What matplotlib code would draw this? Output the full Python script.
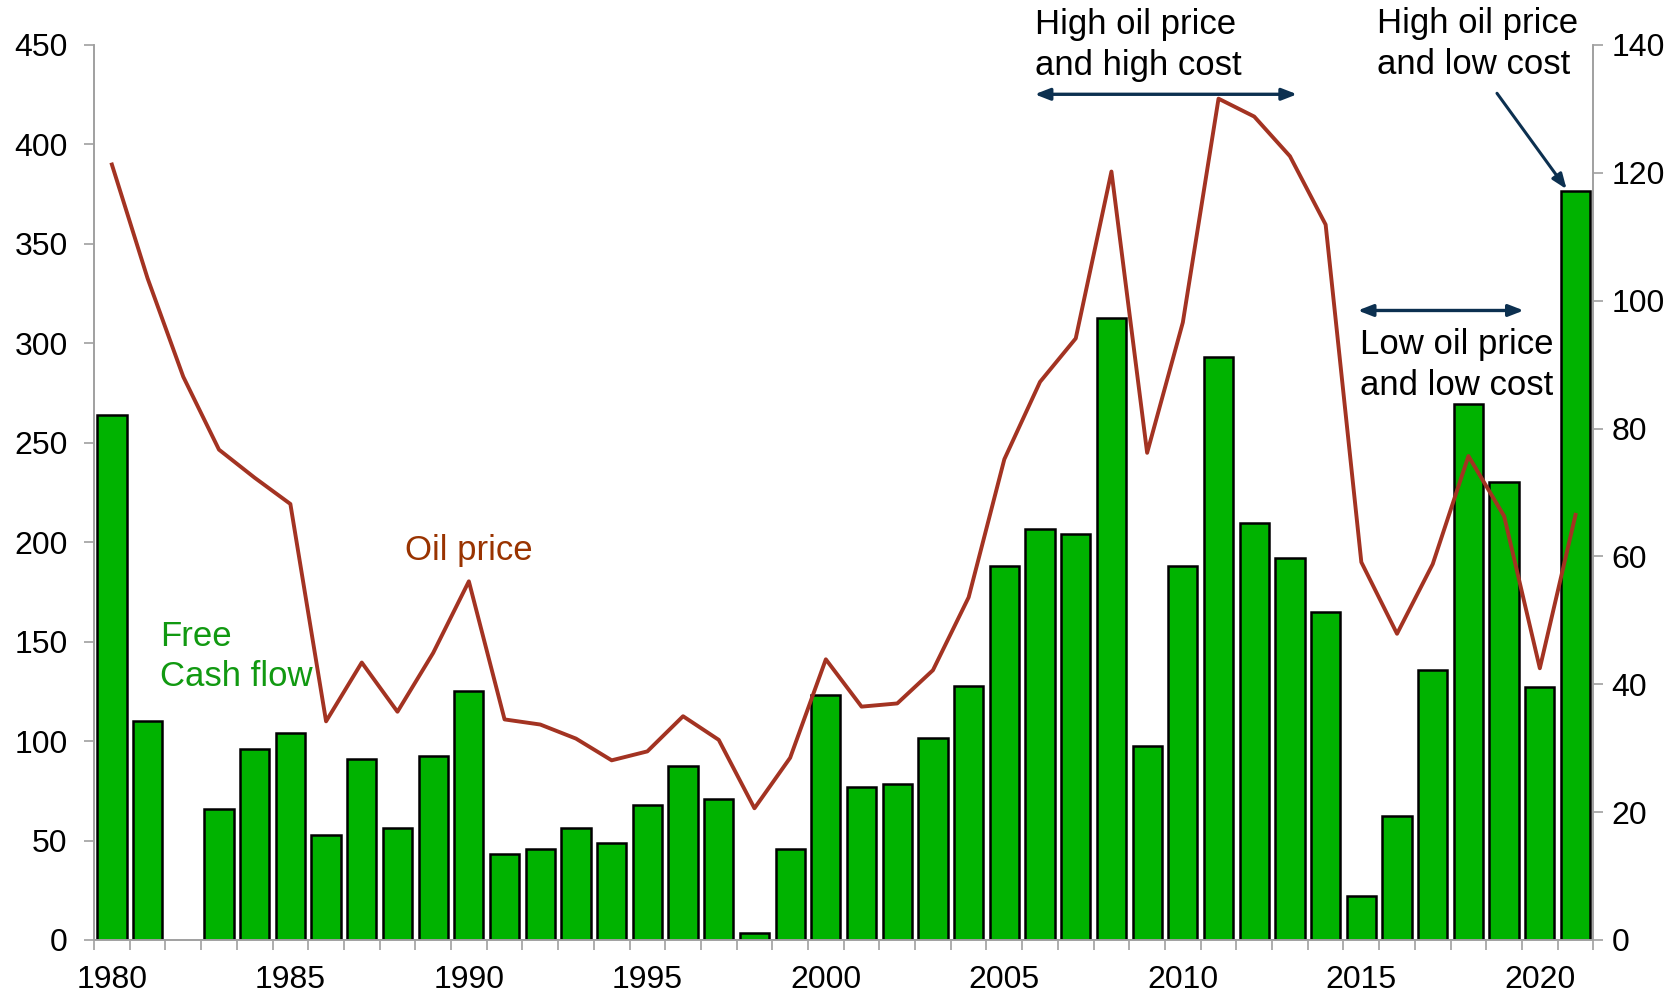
import matplotlib

matplotlib.use("Agg")
import matplotlib.pyplot as plt
from matplotlib.ticker import FixedLocator, NullFormatter

plt.rcParams["font.family"] = ["Liberation Sans", "DejaVu Sans"]

years = list(range(1980, 2022))
free_cash_flow = [
    264, 110, float("nan"), 66, 96, 104, 53, 91, 56.5, 92.5,
    125, 43, 45.5, 56.5, 49, 68, 87.5, 71, 3.5, 45.5,
    123, 77, 78.5, 101.5, 127.5, 188, 206.5, 204, 312.5, 97.5,
    188, 293, 209.5, 192, 165, 22, 62.5, 135.5, 269.5, 230.5,
    127, 376.5,
]
oil_price = [
    121.3, 103.5, 88.1, 76.7, 72.3, 68.2, 34.2, 43.4, 35.7, 44.9,
    56.1, 34.5, 33.7, 31.5, 28.1, 29.5, 35.0, 31.3, 20.6, 28.5,
    43.9, 36.5, 37.0, 42.2, 53.6, 75.2, 87.3, 94.1, 120.2, 76.2,
    96.6, 131.6, 128.8, 122.6, 111.9, 59.1, 47.9, 58.8, 75.7, 66.3,
    42.5, 66.5,
]
year_labels = [1980, 1985, 1990, 1995, 2000, 2005, 2010, 2015, 2020]

_GREEN = "#00b300"
_LINE = "#a33322"
_NAVY = "#0c3050"
_AXIS = "#a0a0a0"
_FS = 23
_AFS = 25

fig = plt.figure(figsize=(16.79, 9.97), dpi=100)
ax = fig.add_axes([0.056, 0.0572, 0.893, 0.8977])
ax2 = ax.twinx()

ax.bar(years, free_cash_flow, width=0.82, color=_GREEN, edgecolor="black", linewidth=1.8, zorder=2)
ax2.plot(years, oil_price, color=_LINE, linewidth=2.8, zorder=3)

ax.set_xlim(1979.5, 2021.5)
ax.set_ylim(0, 450)
ax2.set_ylim(0, 140)
ax.set_yticks(range(0, 451, 50))
ax2.set_yticks(range(0, 141, 20))

# year labels sit on the bars, tick marks sit between them
ax.xaxis.set_major_locator(FixedLocator(year_labels))
ax.xaxis.set_minor_locator(FixedLocator([y - 0.5 for y in years] + [2021.5]))
ax.xaxis.set_minor_formatter(NullFormatter())
ax.tick_params(axis="x", which="major", length=0, labelsize=_FS, pad=18)
ax.tick_params(axis="x", which="minor", length=7, width=1.2, color=_AXIS)
ax.tick_params(axis="y", length=7, width=1.2, color=_AXIS, labelsize=_FS, pad=12)
ax2.tick_params(axis="y", length=7, width=1.2, color=_AXIS, labelsize=_FS, pad=6)

for a in (ax, ax2):
    a.spines["top"].set_visible(False)
    for s in ("left", "right", "bottom"):
        a.spines[s].set_color(_AXIS)
        a.spines[s].set_linewidth(1.2)
ax2.patch.set_visible(False)

# --- Annotations (placed on the left-axis scale) ------------------------
ax.text(1988.2, 196, "Oil price", fontsize=_AFS, color="#993300", va="center", ha="left")
ax.text(1981.35, 142.5, "Free\nCash flow", fontsize=_AFS, color="#119911", va="center", ha="left",
        linespacing=1.3)
ax.text(2005.85, 450, "High oil price\nand high cost", fontsize=_AFS, color="black", va="center",
        ha="left", linespacing=1.3, clip_on=False)
ax.text(2015.45, 450.5, "High oil price\nand low cost", fontsize=_AFS, color="black", va="center",
        ha="left", linespacing=1.3, clip_on=False)
ax.text(2014.97, 289, "Low oil price\nand low cost", fontsize=_AFS, color="black", va="center",
        ha="left", linespacing=1.3)

arrow2 = dict(arrowstyle="<|-|>,head_length=0.9,head_width=0.35", color=_NAVY, lw=2.4,
              shrinkA=0, shrinkB=0)
ax.annotate("", xy=(2013.2, 425.2), xytext=(2005.85, 425.2), arrowprops=arrow2)
ax.annotate("", xy=(2019.55, 316.5), xytext=(2014.9, 316.5), arrowprops=arrow2)
ax.annotate("", xy=(2020.75, 377.5), xytext=(2018.8, 425.7),
            arrowprops=dict(arrowstyle="-|>,head_length=0.9,head_width=0.35", color=_NAVY,
                            lw=2.2, shrinkA=0, shrinkB=0))

fig.savefig("out.png", dpi=100, facecolor="white")
